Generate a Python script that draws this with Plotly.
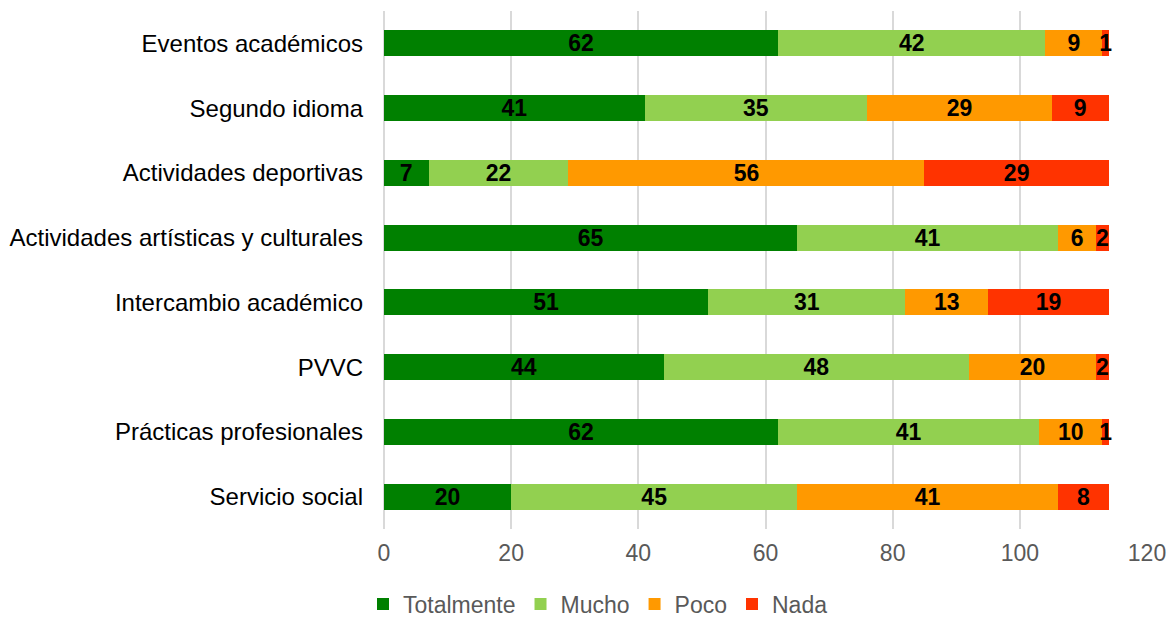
import plotly.graph_objects as go

categories = ["Eventos académicos", "Segundo idioma", "Actividades deportivas",
              "Actividades artísticas y culturales", "Intercambio académico", "PVVC",
              "Prácticas profesionales", "Servicio social"]
totalmente = [62, 41, 7, 65, 51, 44, 62, 20]
mucho = [42, 35, 22, 41, 31, 48, 41, 45]
poco = [9, 29, 56, 6, 13, 20, 10, 41]
nada = [1, 9, 29, 2, 19, 2, 1, 8]

series = [("Totalmente", totalmente, "#008000"),
          ("Mucho", mucho, "#92D050"),
          ("Poco", poco, "#FF9900"),
          ("Nada", nada, "#FF3300")]

FONT = "Liberation Sans, Arial"
W, H = 1169, 618

fig = go.Figure()
for name, vals, color in series:
    fig.add_trace(go.Bar(
        y=categories, x=vals, name=name, orientation="h",
        marker=dict(color=color, line=dict(width=0)),
        text=vals, textposition="inside", insidetextanchor="middle", textangle=0,
        textfont=dict(family=FONT, size=23, color="black", weight="bold"),
        width=0.4,
    ))

fig.update_layout(
    barmode="stack",
    width=W, height=H,
    margin=dict(l=384, r=22, t=11, b=89, autoexpand=False),
    paper_bgcolor="white", plot_bgcolor="white",
    font=dict(family=FONT, size=23, color="#595959"),
    uniformtext=dict(minsize=23, mode="show"),
    showlegend=True,
    legend=dict(orientation="h", xref="container", yref="container",
                x=598 / W, xanchor="center", y=1 - 604 / H, yanchor="middle",
                font=dict(family=FONT, size=23, color="#595959"), traceorder="normal",
                itemwidth=30, tracegroupgap=0),
    xaxis=dict(range=[0, 120], dtick=20, showgrid=True, gridcolor="#D9D9D9", gridwidth=2,
               zeroline=True, zerolinecolor="#D9D9D9", zerolinewidth=2, automargin=False,
               tickfont=dict(family=FONT, size=23, color="#595959"), ticks="", showline=False,
               ticklabelstandoff=8),
    yaxis=dict(autorange="reversed", tickfont=dict(family=FONT, size=24, color="#000000"),
               ticks="", showline=False, automargin=False, ticklabelstandoff=20),
)

fig.write_html("out.html", config={"displayModeBar": False},
               post_script="document.body.style.margin='0';document.body.style.overflow='hidden';")
